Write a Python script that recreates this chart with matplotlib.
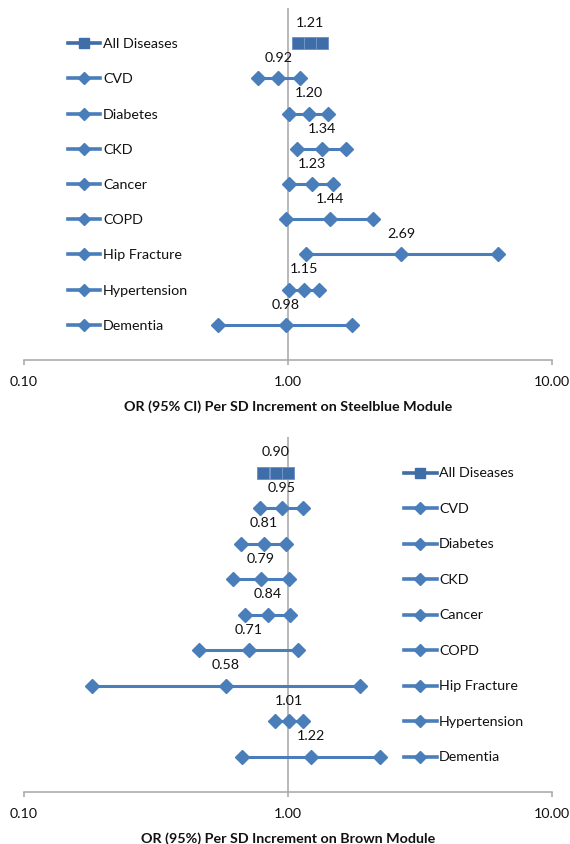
import matplotlib
matplotlib.use("Agg")
import matplotlib.pyplot as plt
import matplotlib.transforms as mtransforms
from matplotlib.ticker import FixedLocator, NullLocator

plt.rcParams['font.family'] = ['Lato', 'DejaVu Sans']

diseases = ["All Diseases", "CVD", "Diabetes", "CKD", "Cancer", "COPD",
            "Hip Fracture", "Hypertension", "Dementia"]

# Steelblue module
sb_or = [1.21, 0.92, 1.20, 1.34, 1.23, 1.44, 2.69, 1.15, 0.98]
sb_lo = [1.09, 0.77, 1.01, 1.08, 1.01, 0.98, 1.165, 1.01, 0.545]
sb_hi = [1.35, 1.11, 1.42, 1.66, 1.48, 2.10, 6.23, 1.31, 1.74]

# Brown module
br_or = [0.90, 0.95, 0.81, 0.79, 0.84, 0.71, 0.58, 1.01, 1.22]
br_lo = [0.806, 0.785, 0.662, 0.619, 0.685, 0.459, 0.181, 0.889, 0.668]
br_hi = [1.00, 1.136, 0.984, 1.01, 1.02, 1.093, 1.87, 1.136, 2.23]

xticks = [0.1, 1.0, 10.0]
xticklabels = ["0.10", "1.00", "10.00"]

xlabel_top = "OR (95% CI) Per SD Increment on Steelblue Module"
xlabel_bot = "OR (95%) Per SD Increment on Brown Module"

LINE_C = "#4A7EBB"
ALL_C = "#3F6DA8"
GRID_C = "#A6A6A6"
TXT_C = "#111111"

fig = plt.figure(figsize=(5.7, 8.45), dpi=100)
W, H = 570, 845


def make_axes(top_px, bot_px):
    left = 24 / W
    width = 528 / W
    return fig.add_axes([left, 1 - bot_px / H, width, (bot_px - top_px) / H])


def draw_panel(ax, ors, los, his, xlabel, leg_x0, leg_x1, leg_xm, leg_xt):
    ax.set_xscale("log")
    ax.set_xlim(0.1, 10)
    ax.set_ylim(10, 0)
    ax.axvline(1.0, color=GRID_C, lw=1.1, zorder=1)
    trans = mtransforms.blended_transform_factory(ax.transAxes, ax.transData)
    for i, name in enumerate(diseases):
        y = i + 1
        xs = [los[i], ors[i], his[i]]
        if i == 0:
            ax.plot(xs, [y] * 3, color=ALL_C, lw=2.2, marker="s", ms=8.8,
                    mfc=ALL_C, mec="#6F95C9", mew=0.7, zorder=3)
            ax.plot([leg_x0, leg_x1], [y, y], color=ALL_C, lw=2.6,
                    transform=trans, clip_on=False, zorder=3)
            ax.plot([leg_xm], [y], marker="s", ms=6.5, color=ALL_C,
                    mec=ALL_C, transform=trans, clip_on=False, zorder=4)
        else:
            ax.plot(xs, [y] * 3, color=LINE_C, lw=2.2, marker="D", ms=7,
                    mfc=LINE_C, mec=LINE_C, zorder=3)
            ax.plot([leg_x0, leg_x1], [y, y], color=LINE_C, lw=2.6,
                    transform=trans, clip_on=False, zorder=3)
            ax.plot([leg_xm], [y], marker="D", ms=6.2, color=LINE_C,
                    mec=LINE_C, transform=trans, clip_on=False, zorder=4)
        ax.text(leg_xt, y, name, transform=trans, ha="left", va="center",
                fontsize=10.3, color=TXT_C)
        ax.text(ors[i], y - 0.6, f"{ors[i]:.2f}", ha="center", va="center",
                fontsize=10.3, color=TXT_C)
    for s in ["left", "right", "top"]:
        ax.spines[s].set_visible(False)
    ax.spines["bottom"].set_color(GRID_C)
    ax.spines["bottom"].set_linewidth(1.1)
    ax.xaxis.set_major_locator(FixedLocator(xticks))
    ax.xaxis.set_minor_locator(NullLocator())
    ax.set_xticklabels(xticklabels)
    ax.tick_params(axis="x", direction="out", length=3.5, width=1.1,
                   color=GRID_C, pad=7.5, labelsize=10.3, labelcolor=TXT_C)
    ax.set_yticks([])
    ax.set_xlabel(xlabel, fontsize=10.3, fontweight="bold", labelpad=8.5,
                  color=TXT_C)


ax1 = make_axes(9, 361)
draw_panel(ax1, sb_or, sb_lo, sb_hi, xlabel_top,
           (68 - 24) / 528, (100 - 24) / 528, (84 - 24) / 528, (103 - 24) / 528)

ax2 = make_axes(438, 793)
draw_panel(ax2, br_or, br_lo, br_hi, xlabel_bot,
           (404 - 24) / 528, (437 - 24) / 528, (420 - 24) / 528, (439 - 24) / 528)

fig.savefig("out.png", dpi=100)
